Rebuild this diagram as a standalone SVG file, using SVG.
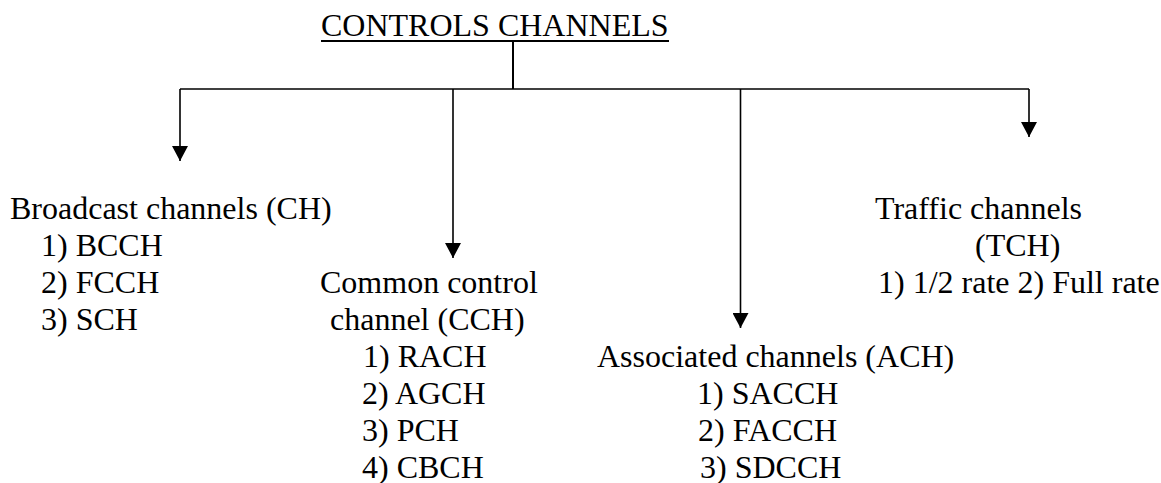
<svg xmlns="http://www.w3.org/2000/svg" width="1161" height="483" viewBox="0 0 1161 483">
  <style>
    text { font-family: "Liberation Serif", "Times New Roman", serif; font-size: 32px; fill: #000; }
    .wire { stroke: #000; stroke-width: 1.6; fill: none; }
    .heavy { stroke-width: 2; }
  </style>
  <defs>
    <marker id="head" viewBox="0 0 15 16" refX="15" refY="8" markerWidth="15" markerHeight="16" markerUnits="userSpaceOnUse" orient="auto">
      <path d="M0,0 L15,8 L0,16 Z" fill="#000"/>
    </marker>
  </defs>

  <rect width="1161" height="483" fill="#fff"/>

  <!-- root title, underlined -->
  <g id="controls-channels">
    <text x="321" y="36">CONTROLS CHANNELS</text>
    <line class="wire heavy" x1="321" y1="41" x2="669" y2="41"/>
  </g>

  <g id="broadcast-channels">
    <text x="10" y="219">Broadcast channels (CH)</text>
    <text x="41" y="256">1) BCCH</text>
    <text x="41" y="293">2) FCCH</text>
    <text x="41" y="330">3) SCH</text>
  </g>

  <g id="common-control-channel">
    <text x="320" y="293">Common control</text>
    <text x="330" y="330">channel (CCH)</text>
    <text x="363" y="367">1) RACH</text>
    <text x="362" y="404">2) AGCH</text>
    <text x="362" y="441">3) PCH</text>
    <text x="362" y="478">4) CBCH</text>
  </g>

  <g id="associated-channels">
    <text x="597" y="367">Associated channels (ACH)</text>
    <text x="697" y="404">1) SACCH</text>
    <text x="698" y="441">2) FACCH</text>
    <text x="700" y="478">3) SDCCH</text>
  </g>

  <g id="traffic-channels">
    <text x="875" y="219">Traffic channels</text>
    <text x="975" y="256">(TCH)</text>
    <text x="878" y="293">1) 1/2 rate 2) Full rate</text>
  </g>

  <!-- connectors: trunk, bus and four drops with arrowheads -->
  <g id="connectors">
    <line class="wire heavy" x1="513" y1="41" x2="513" y2="89"/>
    <line class="wire" x1="180" y1="89" x2="1029" y2="89"/>
    <line class="wire" x1="180" y1="89" x2="180" y2="161" marker-end="url(#head)"/>
    <line class="wire" x1="453" y1="89" x2="453" y2="258" marker-end="url(#head)"/>
    <line class="wire" x1="740.5" y1="89" x2="740.5" y2="328" marker-end="url(#head)"/>
    <line class="wire" x1="1029" y1="89" x2="1029" y2="137" marker-end="url(#head)"/>
  </g>
</svg>
